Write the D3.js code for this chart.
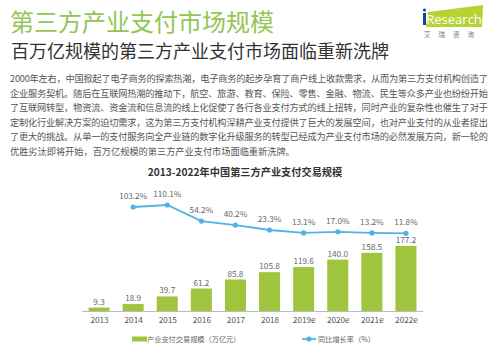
<!DOCTYPE html>
<html><head><meta charset="utf-8">
<script src="https://cdnjs.cloudflare.com/ajax/libs/d3/7.8.5/d3.min.js"></script>
<style>body{margin:0;background:#fff}svg{display:block}</style>
</head><body>
<svg id="c" width="499" height="349"></svg>
<script>
const categories = ["2013","2014","2015","2016","2017","2018","2019e","2020e","2021e","2022e"];
const scaleValues = [9.3,18.9,39.7,61.2,85.8,105.8,119.6,140.0,158.5,177.2];
const growthValues = [null,103.2,110.1,54.2,40.2,23.3,13.1,17.0,13.2,11.8];
const mainTitle = "第三方产业支付市场规模";
const subTitle = "百万亿规模的第三方产业支付市场面临重新洗牌";
const chartTitle = "2013-2022年中国第三方产业支付交易规模";
const paragraph = [
 "2000年左右，中国掀起了电子商务的探索热潮，电子商务的起步孕育了商户线上收款需求，从而为第三方支付机构创造了",
 "企业服务契机。随后在互联网热潮的推动下，航空、旅游、教育、保险、零售、金融、物流、民生等众多产业也纷纷开始",
 "了互联网转型，物资流、资金流和信息流的线上化促使了各行各业支付方式的线上扭转，同时产业的复杂性也催生了对于",
 "定制化行业解决方案的迫切需求，这为第三方支付机构深耕产业支付提供了巨大的发展空间，也对产业支付的从业者提出",
 "了更大的挑战。从单一的支付服务向全产业链的数字化升级服务的转型已经成为产业支付市场的必然发展方向，新一轮的",
 "优胜劣汰即将开始，百万亿规模的第三方产业支付市场面临重新洗牌。"
];
const legendLabels = ["产业支付交易规模（万亿元）","同比增长率（%）"];

const svg = d3.select("#c");
const F = "'Noto Sans CJK SC','Noto Sans',sans-serif";
const green = "#9fc43d", blue = "#4fb3e3";

// Titles
svg.append("text").attr("x",10).attr("y",31).attr("font-family",F).attr("font-size",24)
  .attr("fill","#92c553").text(mainTitle);
svg.append("text").attr("x",11).attr("y",58).attr("font-family",F).attr("font-size",18)
  .attr("fill","#333").text(subTitle);

// Logo
const logo = svg.append("g");
logo.append("path").attr("d","M428,12 L483,5 L482,27 L426,27 Z").attr("fill","#b6d334");
logo.append("text").attr("x",423).attr("y",24).attr("font-family","'Open Sans',sans-serif")
  .attr("font-size",13).attr("fill","#fff").text("iResearch");
logo.append("rect").attr("x",423).attr("y",13).attr("width",3).attr("height",12).attr("fill","#1d3f8f");
logo.append("circle").attr("cx",424.5).attr("cy",10).attr("r",1.6).attr("fill","#1d3f8f");
logo.append("text").attr("x",424).attr("y",37).attr("font-family",F).attr("font-size",6.5)
  .attr("fill","#777").attr("letter-spacing",8).text("艾瑞咨询");

// Paragraph
paragraph.forEach((line,i)=>{
  const t = svg.append("text").attr("x",10).attr("y",82+i*14.6).attr("font-family",F)
    .attr("font-size",9.2).attr("fill","#555").text(line);
  if(i<paragraph.length-1) t.attr("textLength",478).attr("lengthAdjust","spacing");
});

// Chart title
svg.append("text").attr("x",245).attr("y",176).attr("text-anchor","middle").attr("font-family",F)
  .attr("font-size",10.2).attr("font-weight","bold").attr("fill","#333").text(chartTitle);

// Scales
const x = d3.scalePoint().domain(categories).range([82,423]).padding(0.5);
const yBar = d3.scaleLinear().domain([0,200]).range([311,237.6]);
const yLine = d3.scaleLinear().domain([0,100]).range([236.7,207.9]);
const bw = 21;

// Bars
svg.append("g").selectAll("rect").data(scaleValues).join("rect")
  .attr("x",(d,i)=>x(categories[i])-bw/2).attr("y",d=>yBar(d))
  .attr("width",bw).attr("height",d=>yBar(0)-yBar(d)).attr("fill",green);
svg.append("g").selectAll("text").data(scaleValues).join("text")
  .attr("x",(d,i)=>x(categories[i])).attr("y",d=>yBar(d)-3)
  .attr("text-anchor","middle").attr("font-family",F).attr("font-size",8.2).attr("fill","#666")
  .text(d=>d.toFixed(1));

// Axis
const ax = svg.append("g").attr("transform","translate(0,311)")
  .call(d3.axisBottom(x).tickSize(0).tickPadding(6));
ax.select(".domain").attr("stroke","#bbb").attr("d","M82,0.5H423");
ax.selectAll("text").attr("font-family",F).attr("font-size",8.2).attr("fill","#555");

// Line
const lineData = categories.map((c,i)=>({c,v:growthValues[i]})).filter(d=>d.v!=null);
svg.append("path").datum(lineData)
  .attr("d",d3.line().x(d=>x(d.c)).y(d=>yLine(d.v)))
  .attr("fill","none").attr("stroke",blue).attr("stroke-width",1.8);
svg.append("g").selectAll("circle").data(lineData).join("circle")
  .attr("cx",d=>x(d.c)).attr("cy",d=>yLine(d.v)).attr("r",2.6).attr("fill",blue);
svg.append("g").selectAll("text").data(lineData).join("text")
  .attr("x",d=>x(d.c)).attr("y",d=>yLine(d.v)-8)
  .attr("text-anchor","middle").attr("font-family",F).attr("font-size",8.2).attr("fill","#666")
  .text(d=>d.v.toFixed(1)+"%");

// Legend
svg.append("rect").attr("x",132).attr("y",336.5).attr("width",15).attr("height",5).attr("fill",green);
svg.append("text").attr("x",147).attr("y",342).attr("font-family",F).attr("font-size",7.2)
  .attr("fill","#666").text(legendLabels[0]);
svg.append("line").attr("x1",302).attr("x2",316).attr("y1",339).attr("y2",339)
  .attr("stroke",blue).attr("stroke-width",1.8);
svg.append("circle").attr("cx",309).attr("cy",339).attr("r",2.6).attr("fill",blue);
svg.append("text").attr("x",318).attr("y",342).attr("font-family",F).attr("font-size",7.2)
  .attr("fill","#666").text(legendLabels[1]);
</script>
</body></html>
